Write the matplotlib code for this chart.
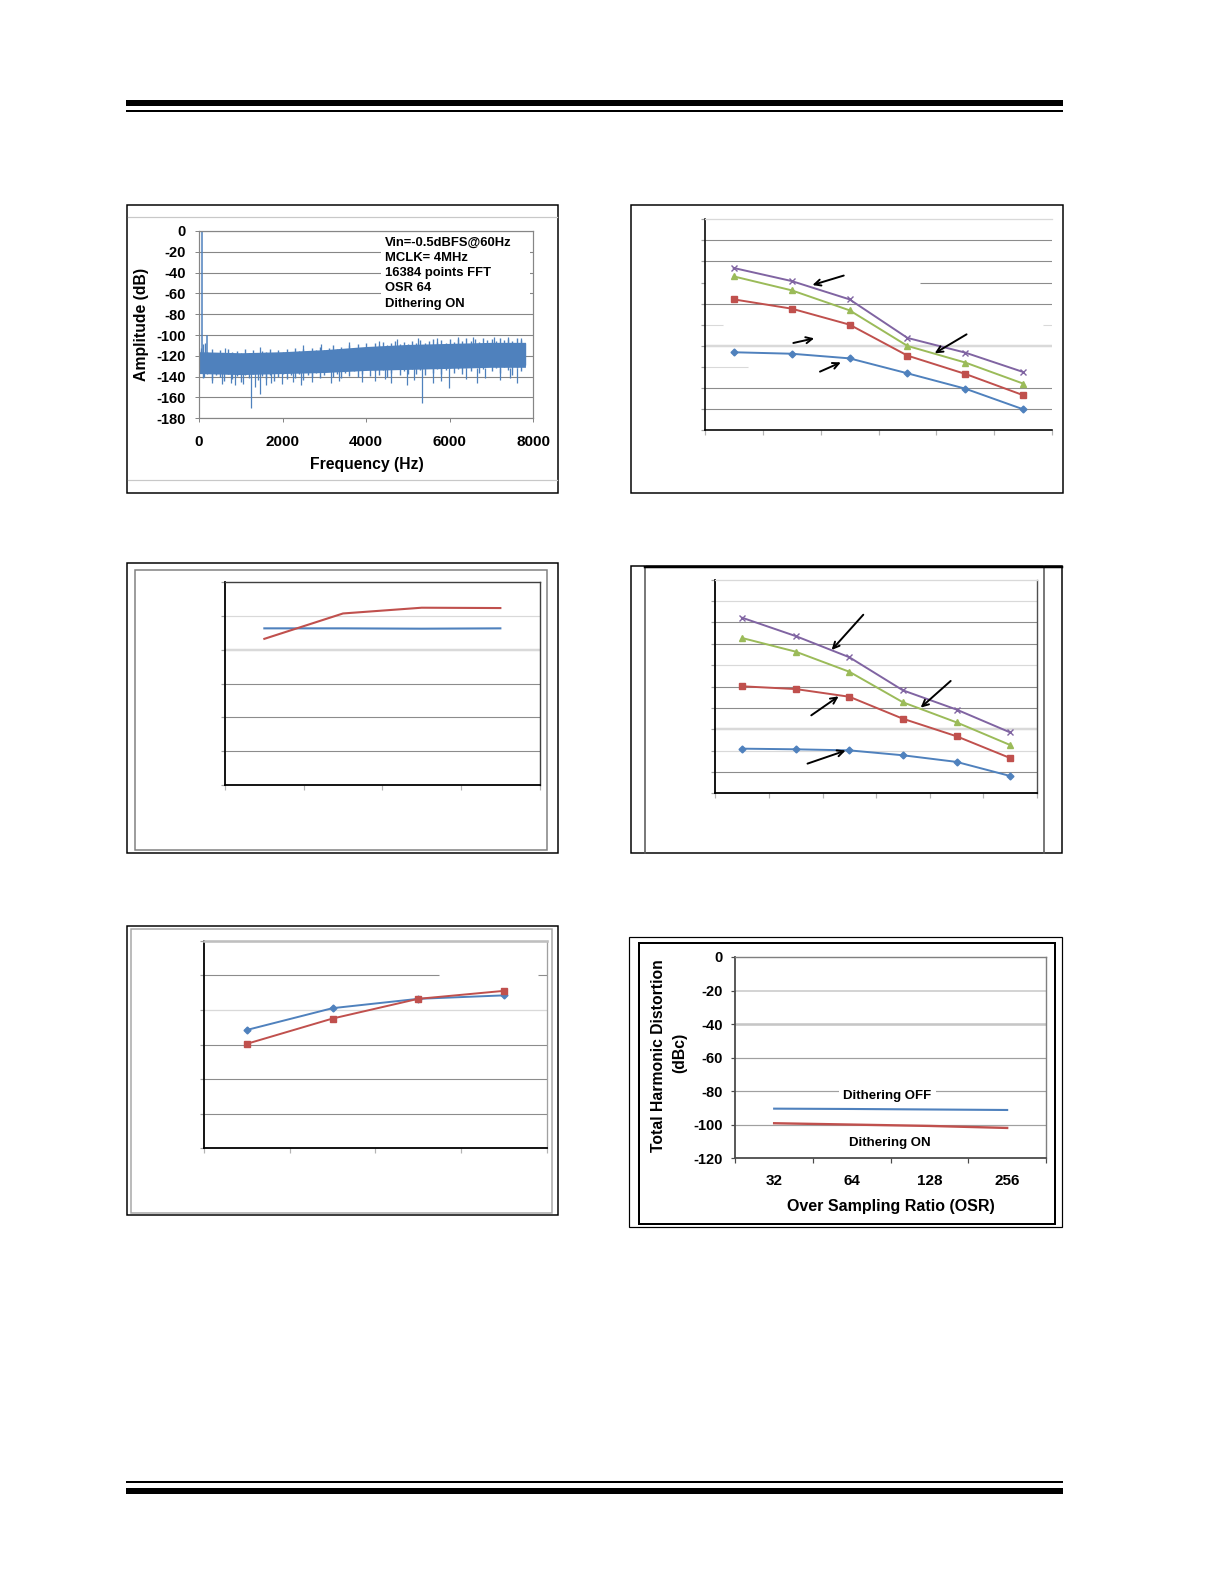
import matplotlib
matplotlib.use('Agg')
import matplotlib.pyplot as plt
from matplotlib.patches import Rectangle
import numpy as np

plt.rcParams['font.family'] = ['Liberation Sans', 'DejaVu Sans']
plt.rcParams['font.weight'] = 'bold'

# ---------------- data ----------------
# Panel 1: FFT spectrum. Solid noise core, per-bin spread (every 100 Hz),
# deeper dips, taller spikes and the tone/harmonic.
fft_core_freq = [0, 1000, 2000, 3000, 4000, 5000, 6000, 7000, 7812]
fft_core_upper = [-116, -117, -116, -114, -111, -109, -108, -107, -107]
fft_core_lower = [-137, -138, -137, -136, -134, -133, -132, -131, -131]
fft_bin_freq = list(range(0, 7900, 100))
fft_bin_upper = [-114, -109, -116, -113, -117, -114, -118, -113, -116, -115, -117,
                 -113, -117, -114, -118, -115, -116, -113, -117, -114, -116,
                 -113, -116, -112, -115, -113, -116, -112, -114, -111, -114,
                 -112, -110, -113, -111, -114, -110, -112, -109, -112, -108,
                 -111, -108, -110, -107, -110, -108, -106, -109, -107, -109,
                 -106, -108, -105, -108, -106, -104, -107, -105, -108, -104,
                 -107, -104, -106, -103, -106, -104, -107, -103, -105, -104,
                 -106, -103, -105, -104, -106, -103, -105, -108]
fft_bin_lower = [-133, -141, -137, -143, -138, -140, -144, -137, -142, -139, -145,
                 -138, -141, -137, -143, -139, -142, -138, -144, -140, -137,
                 -142, -138, -141, -137, -143, -138, -140, -136, -141, -138,
                 -135, -140, -137, -141, -136, -139, -135, -140, -137, -134,
                 -139, -135, -138, -134, -140, -136, -133, -138, -135, -137,
                 -133, -137, -134, -138, -132, -136, -133, -137, -134, -132,
                 -136, -133, -137, -132, -135, -131, -136, -133, -130, -135,
                 -132, -136, -131, -134, -138, -132, -135, -129]
fft_dip_freq = [120, 300, 560, 760, 870, 1050, 1244, 1330, 1452, 1600, 1720, 1980, 2250,
                2440, 2700, 3150, 3350, 3900, 4200, 4450, 4602, 4969, 5150, 5344, 5600,
                5800, 5982, 6400, 6650, 6850, 7200, 7450, 7620]
fft_dip_db = [-140, -146, -147, -146, -148, -147, -170, -150, -157, -148, -146, -147, -145,
              -148, -145, -146, -144, -145, -144, -142, -146, -148, -143, -165, -146,
              -144, -151, -142, -146, -141, -143, -141, -146]
fft_spike_freq = [45, 150, 620, 1450, 2500, 2930, 3600, 4300, 4750, 5250, 5700, 6200,
                  6550, 7050, 7400, 7700]
fft_spike_db = [-112, -108, -112, -111, -110, -109, -107, -106, -104, -103, -103, -102,
                -102, -102, -102, -103]
fft_tone_freq = [60, 180]
fft_tone_db = [-0.5, -100]
p1_yticks = [0, -20, -40, -60, -80, -100, -120, -140, -160, -180]
p1_xticks = [0, 2000, 4000, 6000, 8000]
p1_notes = ['Vin=-0.5dBFS@60Hz', 'MCLK= 4MHz', '16384 points FFT', 'OSR 64', 'Dithering ON']

# Panel 2
p2_x = [0, 1, 2, 3, 4, 5]
p2_purple = [7.69, 7.07, 6.20, 4.37, 3.67, 2.75]
p2_green = [7.29, 6.63, 5.68, 3.99, 3.20, 2.20]
p2_red = [6.20, 5.76, 5.00, 3.53, 2.66, 1.65]
p2_blue = [3.69, 3.62, 3.40, 2.69, 1.96, 0.98]

# Panel 3
p3_x = [0, 1, 2, 3]
p3_blue = [4.63, 4.63, 4.62, 4.63]
p3_red = [4.32, 5.07, 5.24, 5.23]

# Panel 4
p4_x = [0, 1, 2, 3, 4, 5]
p4_purple = [8.22, 7.36, 6.37, 4.82, 3.92, 2.85]
p4_green = [7.27, 6.63, 5.69, 4.26, 3.32, 2.26]
p4_red = [5.01, 4.88, 4.52, 3.49, 2.67, 1.65]
p4_blue = [2.09, 2.06, 2.01, 1.78, 1.47, 0.81]

# Panel 5
p5_x = [0, 1, 2, 3]
p5_blue = [3.42, 4.05, 4.32, 4.42]
p5_red = [3.02, 3.75, 4.32, 4.55]

# Panel 6
p6_osr = ['32', '64', '128', '256']
p6_off = [-90.4, -90.6, -90.9, -91.2]
p6_on = [-99.1, -99.9, -100.7, -101.9]
p6_yticks = [0, -20, -40, -60, -80, -100, -120]

# ---------------- styles ----------------
BLUE = '#4f81bd'
RED = '#c0504d'
GREEN = '#9bbb59'
PURPLE = '#8064a2'
DARK = '#8c8c8c'
LIGHT = '#d9d9d9'
PX = 0.72  # points per pixel

W, H = 1224, 1584
fig = plt.figure(figsize=(W / 100, H / 100), dpi=100)


def px_axes(x0, y0, x1, y1):
    return fig.add_axes([x0 / W, 1 - y1 / H, (x1 - x0) / W, (y1 - y0) / H])


bg = fig.add_axes([0, 0, 1, 1])
bg.set_xlim(0, W)
bg.set_ylim(H, 0)
bg.axis('off')


def rect(x0, y0, x1, y1, ec='black', lw=1.0, fc='none'):
    bg.add_patch(Rectangle((x0, y0), x1 - x0, y1 - y0, ec=ec, fc=fc, lw=lw))


def ftext(x, y, s, **kw):
    # figure-level text positioned in page pixels, drawn above all axes
    fig.text(x, y, s, transform=bg.transData, **kw)


# header / footer bars
rect(126, 100, 1063, 106, ec='none', fc='black')
rect(126, 110, 1063, 112, ec='none', fc='black')
rect(126, 1481, 1063, 1483, ec='none', fc='black')
rect(126, 1488, 1063, 1494, ec='none', fc='black')

# panel frames
rect(126.7, 204.7, 557.5, 492.6, lw=1.5 * PX)
bg.plot([127.5, 557], [217.3, 217.3], color='#c8c8c8', lw=1.2 * PX)
bg.plot([127.5, 557], [480.3, 480.3], color='#c8c8c8', lw=1.2 * PX)

rect(630.5, 204.7, 1062.5, 492.6, lw=1.5 * PX)

rect(126.7, 563.3, 557.5, 852.7, lw=1.5 * PX)
rect(134.7, 570.0, 547.3, 849.5, ec='#7f7f7f', lw=1.5 * PX)

rect(630.7, 566.3, 1062.0, 853.0, lw=1.5 * PX)
bg.plot([645.3, 645.3], [566.3, 853], color='#5a5a5a', lw=1.6 * PX)
bg.plot([1043.6, 1043.6], [566.3, 853], color='#5a5a5a', lw=1.6 * PX)
bg.plot([645.3, 1062], [567.3, 567.3], color='black', lw=2.5 * PX)

rect(126.7, 926.3, 557.5, 1214.8, lw=1.5 * PX)
rect(130.7, 928.7, 552.0, 1212.5, ec='#a6a6a6', lw=1.5 * PX)

rect(629.3, 937.3, 1062.0, 1226.5, lw=1.2 * PX)
rect(639.3, 943.0, 1055.0, 1223.5, lw=2.0 * PX)


def cat_axes(ax, ncat, ymax, grids, spines):
    ax.set_xlim(-0.5, ncat - 0.5)
    ax.set_ylim(0, ymax)
    for (v, c, lw, x0, x1) in grids:
        ax.plot([x0, x1], [v, v], color=c, lw=lw, zorder=1, solid_capstyle='butt')
    for side, (c, lw) in spines.items():
        if c is None:
            ax.spines[side].set_visible(False)
        else:
            ax.spines[side].set_color(c)
            ax.spines[side].set_linewidth(lw)
    ax.set_xticks(np.arange(-0.5, ncat, 1))
    ax.set_yticks(range(0, ymax + 1))
    ax.set_xticklabels([])
    ax.set_yticklabels([])
    ax.tick_params(axis='x', direction='out', length=5 * PX, width=1.2 * PX, color='#b4b4b4')
    ax.tick_params(axis='y', direction='out', length=4.5 * PX, width=1.2 * PX, color='#a0a0a0')


def arrows(ax, specs):
    for (tx, ty, hx, hy) in specs:
        ax.annotate('', xy=(hx, hy), xytext=(tx, ty),
                    arrowprops=dict(arrowstyle='->,head_length=0.45,head_width=0.22',
                                    color='black', lw=1.4, shrinkA=0, shrinkB=0), zorder=5)


# ---------------- Panel 1: FFT ----------------
ax1 = px_axes(199, 231, 533.3, 418.3)
ax1.set_xlim(0, 8000)
ax1.set_ylim(-180, 0)
for v in p1_yticks:
    ax1.axhline(v, color='#868686', lw=1.1 * PX, zorder=0.5)
ax1.add_patch(Rectangle((4346, -75), 3570, 72, fc='white', ec='none', zorder=0.8))
ax1.fill_between(fft_core_freq, fft_core_lower, fft_core_upper, color=BLUE, lw=0, zorder=2)
ax1.vlines(fft_bin_freq, fft_bin_lower, fft_bin_upper, color=BLUE, lw=1.0, zorder=2)
ax1.vlines(fft_spike_freq, -118, fft_spike_db, color=BLUE, lw=0.9, zorder=2)
ax1.vlines(fft_dip_freq, -132, fft_dip_db, color=BLUE, lw=0.9, zorder=2)
ax1.vlines(fft_tone_freq, -118, fft_tone_db, color=BLUE, lw=1.1, zorder=2)
for s in ax1.spines.values():
    s.set_color('#868686')
    s.set_linewidth(1.2 * PX)
ax1.set_yticks(p1_yticks)
ax1.set_xticks(p1_xticks)
ax1.set_yticklabels([str(v) for v in p1_yticks], fontsize=10.5, fontweight='bold')
ax1.set_xticklabels([str(v) for v in p1_xticks], fontsize=11, fontweight='bold')
ax1.tick_params(direction='out', length=4 * PX, width=1 * PX, color='#868686')
ax1.tick_params(axis='y', pad=6.5)
ax1.tick_params(axis='x', pad=9)
for i, t in enumerate(p1_notes):
    ftext(384.7, 242.5 + i * 15.3, t, fontsize=9.4, fontweight='bold', ha='left', va='center')
ftext(141.5, 324, 'Amplitude (dB)', rotation=90, fontsize=11.3, fontweight='bold',
      ha='center', va='center')
ftext(366.5, 464, 'Frequency (Hz)', fontsize=11.3, fontweight='bold', ha='center', va='center')

# ---------------- Panel 2 ----------------
ax2 = px_axes(704.7, 219.3, 1052.3, 430)
grids2 = [(1, DARK, 1.1 * PX, -0.5, 5.5), (2, DARK, 1.1 * PX, -0.5, 5.5),
          (3, LIGHT, 1.1 * PX, -0.5, 0.24), (4, LIGHT, 2.5 * PX, -0.5, 5.5),
          (5, LIGHT, 1.1 * PX, -0.5, -0.18), (5, LIGHT, 1.1 * PX, 5.34, 5.5),
          (6, DARK, 1.1 * PX, -0.5, 5.5), (7, DARK, 1.1 * PX, 3.22, 5.5),
          (8, DARK, 1.1 * PX, -0.5, 5.5), (9, DARK, 1.1 * PX, -0.5, 5.5)]
cat_axes(ax2, 6, 10, grids2, {'left': ('black', 1.6 * PX), 'bottom': ('black', 1.6 * PX),
                              'top': (LIGHT, 1.3 * PX), 'right': (None, 0)})
ax2.plot(p2_x, p2_blue, color=BLUE, marker='D', ms=3.5, lw=1.4, zorder=3)
ax2.plot(p2_x, p2_red, color=RED, marker='s', ms=4.5, lw=1.4, zorder=3)
ax2.plot(p2_x, p2_green, color=GREEN, marker='^', ms=5, lw=1.4, zorder=3)
ax2.plot(p2_x, p2_purple, color=PURPLE, marker='x', ms=5, mew=1.0, lw=1.4, zorder=3)
arrows(ax2, [(1.90, 7.33, 1.36, 6.88), (1.03, 4.13, 1.39, 4.35),
             (4.02, 4.54, 3.47, 3.64), (1.49, 2.77, 1.85, 3.21)])

# ---------------- Panel 3 ----------------
ax3 = px_axes(225, 582, 539.7, 785)
grids3 = [(1, DARK, 1.1 * PX, -0.5, 3.5), (2, DARK, 1.1 * PX, -0.5, 3.5),
          (3, DARK, 1.1 * PX, -0.5, 3.5), (4, LIGHT, 2.5 * PX, -0.5, 3.5),
          (5, LIGHT, 1.2 * PX, -0.5, 3.5)]
cat_axes(ax3, 4, 6, grids3, {'left': ('black', 1.8 * PX), 'bottom': ('black', 1.8 * PX),
                             'top': ('#404040', 1.4 * PX), 'right': ('#404040', 1.4 * PX)})
ax3.plot(p3_x, p3_blue, color=BLUE, lw=1.5, zorder=3)
ax3.plot(p3_x, p3_red, color=RED, lw=1.5, zorder=3)

# ---------------- Panel 4 ----------------
ax4 = px_axes(715.3, 579.7, 1037, 793.3)
grids4 = [(1, DARK, 1.1 * PX, -0.5, 5.5), (2, LIGHT, 1.2 * PX, -0.5, 5.5),
          (3, LIGHT, 2.5 * PX, -0.5, 5.5), (4, DARK, 1.1 * PX, -0.5, 5.5),
          (5, DARK, 1.1 * PX, -0.5, 5.5), (6, LIGHT, 1.2 * PX, -0.5, 5.5),
          (7, DARK, 1.1 * PX, -0.5, 5.5), (8, DARK, 1.1 * PX, -0.5, 5.5),
          (9, LIGHT, 1.2 * PX, -0.5, 5.5)]
cat_axes(ax4, 6, 10, grids4, {'left': ('black', 1.8 * PX), 'bottom': ('black', 1.8 * PX),
                              'top': (LIGHT, 1.3 * PX), 'right': ('#505050', 1.4 * PX)})
ax4.plot(p4_x, p4_blue, color=BLUE, marker='D', ms=3.5, lw=1.4, zorder=3)
ax4.plot(p4_x, p4_red, color=RED, marker='s', ms=4.5, lw=1.4, zorder=3)
ax4.plot(p4_x, p4_green, color=GREEN, marker='^', ms=5, lw=1.4, zorder=3)
ax4.plot(p4_x, p4_purple, color=PURPLE, marker='x', ms=5, mew=1.0, lw=1.4, zorder=3)
arrows(ax4, [(2.26, 8.36, 1.67, 6.71), (3.89, 5.26, 3.33, 4.01),
             (1.29, 3.65, 1.80, 4.54), (1.22, 1.39, 1.93, 2.00)])

# ---------------- Panel 5 ----------------
ax5 = px_axes(204, 940.7, 546.7, 1148.3)
grids5 = [(1, DARK, 1.1 * PX, -0.5, 3.5), (2, DARK, 1.1 * PX, -0.5, 3.5),
          (3, DARK, 1.1 * PX, -0.5, 3.5), (4, LIGHT, 1.3 * PX, -0.5, 3.5),
          (5, DARK, 1.1 * PX, -0.5, 2.24), (5, DARK, 1.1 * PX, 3.40, 3.5)]
cat_axes(ax5, 4, 6, grids5, {'left': ('black', 1.8 * PX), 'bottom': ('black', 1.8 * PX),
                             'top': ('#bfbfbf', 2.6 * PX), 'right': ('#a0a0a0', 1.3 * PX)})
ax5.plot(p5_x, p5_blue, color=BLUE, marker='D', ms=3.5, lw=1.4, zorder=3)
ax5.plot(p5_x, p5_red, color=RED, marker='s', ms=4.5, lw=1.4, zorder=3)

# ---------------- Panel 6: THD vs OSR ----------------
ax6 = px_axes(735.3, 957, 1046, 1158.3)
ax6.set_xlim(-0.5, 3.5)
ax6.set_ylim(-120, 0)
for v, c, lw in [(-20, '#cacaca', 1.6 * PX), (-40, '#c6c6c6', 2.6 * PX), (-60, '#a0a0a0', 1.2 * PX),
                 (-80, '#a0a0a0', 1.2 * PX), (-100, '#a0a0a0', 1.2 * PX)]:
    ax6.axhline(v, color=c, lw=lw, zorder=0.5)
for side, c, lw in [('left', '#4a4a4a', 1.8 * PX), ('bottom', '#4a4a4a', 1.8 * PX),
                    ('top', '#7f7f7f', 1.4 * PX), ('right', '#7f7f7f', 1.4 * PX)]:
    ax6.spines[side].set_color(c)
    ax6.spines[side].set_linewidth(lw)
x6 = np.arange(len(p6_osr))
ax6.plot(x6, p6_off, color=BLUE, lw=1.5, zorder=3)
ax6.plot(x6, p6_on, color=RED, lw=1.7, zorder=3)
ax6.set_yticks(p6_yticks)
ax6.set_yticklabels([str(v) for v in p6_yticks], fontsize=10.5, fontweight='bold')
ax6.tick_params(axis='y', direction='out', length=4 * PX, width=1.2 * PX, color='#4a4a4a', pad=6)
ax6.set_xticks(x6)
ax6.set_xticklabels(p6_osr, fontsize=11, fontweight='bold')
ax6.set_xticks(np.arange(-0.5, 4, 1), minor=True)
ax6.tick_params(axis='x', which='major', length=0, pad=11.5)
ax6.tick_params(axis='x', which='minor', direction='out', length=5 * PX, width=1.2 * PX,
                color='#4a4a4a')
ax6.text(1.46, -82.9, 'Dithering OFF', fontsize=9.5, fontweight='bold', ha='center', va='center',
         bbox=dict(fc='white', ec='none', pad=3), zorder=4)
ax6.text(1.49, -110.6, 'Dithering ON', fontsize=9.5, fontweight='bold', ha='center', va='center',
         zorder=4)
ftext(890.7, 1206, 'Over Sampling Ratio (OSR)', fontsize=11.5, fontweight='bold',
      ha='center', va='center')
ftext(658.7, 1056, 'Total Harmonic Distortion', rotation=90, fontsize=11.3, fontweight='bold',
      ha='center', va='center')
ftext(679.3, 1053, '(dBc)', rotation=90, fontsize=11.3, fontweight='bold',
      ha='center', va='center')

fig.savefig('out.png', dpi=100)
